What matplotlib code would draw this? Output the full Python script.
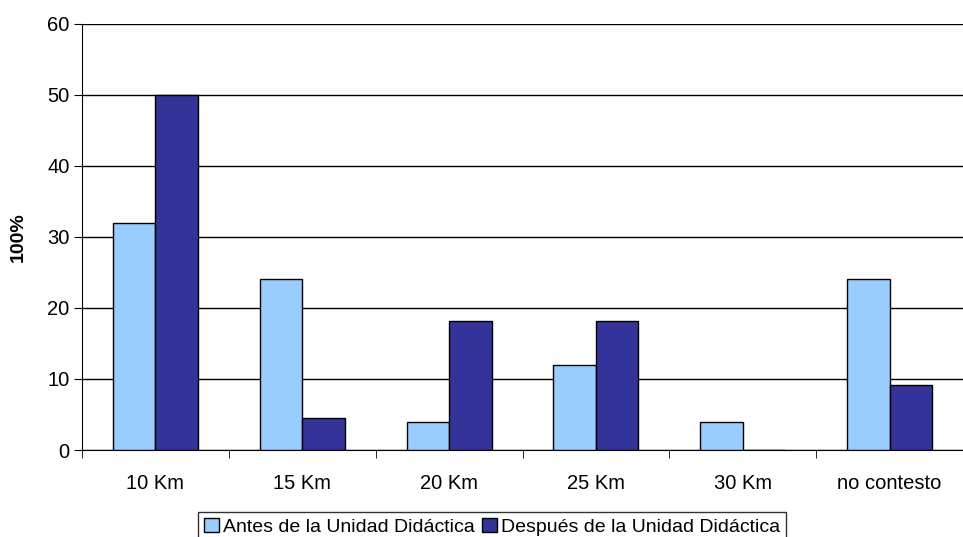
import matplotlib
matplotlib.use("Agg")
import matplotlib.pyplot as plt
import numpy as np
from matplotlib.patches import Patch

plt.rcParams['font.family'] = ['Liberation Sans', 'DejaVu Sans']

categories = ["10 Km", "15 Km", "20 Km", "25 Km", "30 Km", "no contesto"]
antes = [32, 24, 4, 12, 4, 24]
despues = [50, 4.5, 18.2, 18.2, 0, 9.1]
series_names = ["Antes de la Unidad Didáctica", "Después de la Unidad Didáctica"]
colors = ["#99CCFF", "#333399"]

fig = plt.figure(figsize=(9.63, 5.37), dpi=100)
ax = fig.add_axes([82/963, 87/537, 1 - 82/963, (450-23.5)/537])

x = np.arange(len(categories))
w = 0.29
ax.bar(x - w/2, antes, w, color=colors[0], edgecolor="black", linewidth=1, zorder=3)
ax.bar(x + w/2, despues, w, color=colors[1], edgecolor="black", linewidth=1, zorder=3)

ax.set_xlim(-0.5, len(categories) - 0.5)
ax.set_ylim(0, 60)
ax.set_yticks(np.arange(0, 61, 10))
ax.yaxis.grid(True, color="black", linewidth=1, zorder=0)
ax.set_axisbelow(True)

ax.set_xticks(x)
ax.set_xticklabels(categories, fontsize=14.5)
ax.set_xticks(np.arange(-0.5, len(categories), 1), minor=True)
ax.tick_params(axis='x', which='major', length=0, pad=17)
ax.tick_params(axis='x', which='minor', length=6, direction='out', color='black')
ax.tick_params(axis='y', labelsize=14.5, length=6, direction='out', pad=3)

for s in ["top", "right"]:
    ax.spines[s].set_visible(False)
ax.spines["left"].set_color("black")
ax.spines["bottom"].set_color("black")

ax.set_ylabel("100%", fontsize=14, fontweight="bold")
ax.yaxis.set_label_coords(-55/881, 0.5)

handles = [Patch(facecolor=c, edgecolor="black", linewidth=1) for c in colors]
leg = fig.legend(handles, series_names, loc="upper center",
                 bbox_to_anchor=(492/963, (537-512)/537), ncol=2, fontsize=14,
                 frameon=True, fancybox=False, edgecolor="black",
                 handlelength=0.75, handleheight=0.75, handletextpad=0.2,
                 columnspacing=0.4, borderpad=0.3, borderaxespad=0)
leg.get_frame().set_linewidth(1)

fig.savefig("out.png", dpi=100)
